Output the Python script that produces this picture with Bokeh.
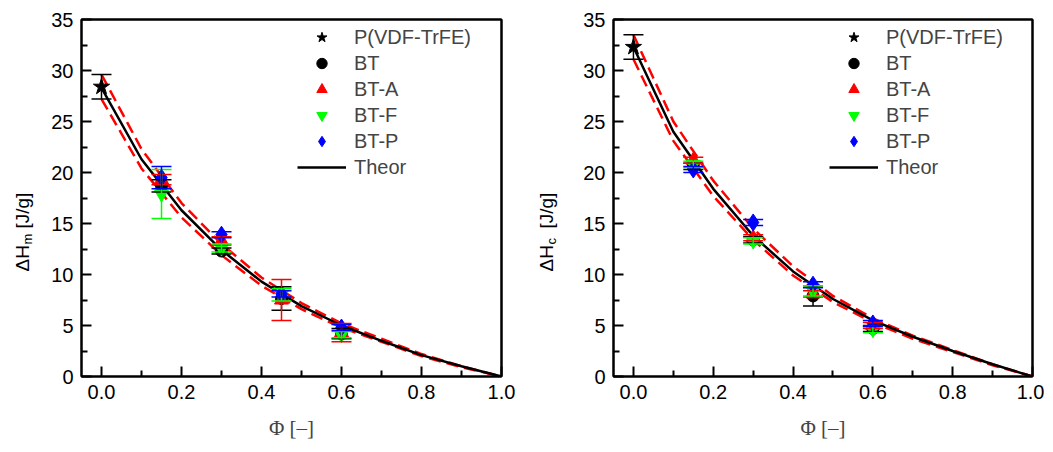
import math
from bokeh.plotting import figure
from bokeh.models import (ColumnDataSource, Whisker, TeeHead, Legend, LegendItem,
                          Range1d, FixedTicker, NumeralTickFormatter, LinearAxis)
from bokeh.core.properties import value
from bokeh.layouts import row
from bokeh.embed import file_html
from bokeh.resources import INLINE

# ---------------- data ----------------
phi_pure = [0.0]
phi = [0.15, 0.30, 0.45, 0.60]
theor_phi = [0.0, 0.1, 0.2, 0.3, 0.4, 0.5, 0.6, 0.7, 0.8, 0.9, 1.0]

# Left panel: melting enthalpy dHm [J/g]
hm_pvdf = [28.4]
hm_pvdf_err = [1.2]
hm_bt = [18.7, 12.3, 7.65, 4.2]
hm_bt_err = [0.6, 0.3, 1.15, 0.5]
hm_bta = [19.3, 13.3, 7.5, 4.3]
hm_bta_err = [0.5, 0.4, 2.0, 0.9]
hm_btf = [17.9, 12.6, 8.0, 4.1]
hm_btf_err = [2.4, 0.4, 0.6, 0.3]
hm_btp = [19.5, 13.9, 8.1, 4.8]
hm_btp_err = [1.1, 0.3, 0.3, 0.3]
hm_theor = [28.3, 21.3, 16.3, 12.4, 9.3, 6.9, 5.0, 3.5, 2.1, 1.0, 0.0]
hm_upper = [29.6, 22.3, 17.0, 13.0, 9.7, 7.2, 5.2, 3.7, 2.2, 1.0, 0.0]
hm_lower = [27.2, 20.4, 15.6, 11.9, 8.9, 6.6, 4.8, 3.4, 2.0, 0.9, 0.0]

# Right panel: crystallization enthalpy dHc [J/g]
hc_pvdf = [32.3]
hc_pvdf_err = [1.2]
hc_bt = [20.6, 13.4, 7.9, 4.7]
hc_bt_err = [0.3, 0.3, 1.0, 0.3]
hc_bta = [21.2, 13.6, 8.1, 5.0]
hc_bta_err = [0.3, 0.3, 0.3, 0.3]
hc_btf = [20.8, 13.3, 8.4, 4.6]
hc_btf_err = [0.3, 0.3, 0.5, 0.3]
hc_btp = [20.3, 15.1, 9.0, 5.2]
hc_btp_err = [0.3, 0.3, 0.3, 0.3]
hc_theor = [32.3, 24.0, 18.4, 13.8, 10.3, 7.6, 5.5, 3.9, 2.5, 1.2, 0.0]
hc_upper = [33.5, 25.0, 19.2, 14.5, 10.8, 7.9, 5.7, 4.0, 2.6, 1.2, 0.0]
hc_lower = [31.1, 23.1, 17.7, 13.4, 9.9, 7.3, 5.3, 3.7, 2.4, 1.1, 0.0]

x_ticks = [0.0, 0.2, 0.4, 0.6, 0.8, 1.0]
x_minor = [0.1, 0.3, 0.5, 0.7, 0.9]
y_ticks = [0, 5, 10, 15, 20, 25, 30, 35]
y_minor = [2.5, 7.5, 12.5, 17.5, 22.5, 27.5, 32.5]
series_names = ["P(VDF-TrFE)", "BT", "BT-A", "BT-F", "BT-P", "Theor"]

SANS = "Liberation Sans"
SERIF = "Liberation Serif"
H = 444


def ylabel_fig(width, cx, sub):
    """Narrow figure (pixel ranges, no axes) holding the rotated y title."""
    f = figure(width=width, height=H, output_backend="svg", toolbar_location=None,
               x_range=Range1d(0, width), y_range=Range1d(0, H),
               x_axis_location=None, y_axis_location=None, title=None,
               frame_width=width, frame_height=H,
               min_border=0, min_border_left=0, min_border_right=0,
               min_border_top=0, min_border_bottom=0)
    f.grid.visible = False
    f.outline_line_color = None
    kw = dict(angle=math.pi / 2, text_align="left", text_baseline="middle",
              text_color="black", text_font=value(SANS))
    f.text(x=[cx], y=[192], text=["ΔH"], text_font_size="19px", **kw)
    f.text(x=[cx + 5], y=[219], text=[sub], text_font_size="13px", **kw)
    f.text(x=[cx], y=[235], text=["[J/g]"], text_font_size="19px", **kw)
    return f


def make_panel(width, border_left, border_right, pvdf, pvdf_err, series,
               theor, upper, lower):
    p = figure(width=width, height=H, output_backend="svg", toolbar_location=None,
               x_range=Range1d(-0.05, 1.0), y_range=Range1d(0, 35),
               min_border_left=border_left, min_border_right=border_right,
               min_border_top=19, min_border_bottom=68)
    p.grid.visible = False
    p.outline_line_color = "black"
    p.outline_line_width = 2

    for ax in (p.xaxis[0], p.yaxis[0]):
        ax.axis_line_width = 2
        ax.major_tick_line_width = 2
        ax.minor_tick_line_width = 2
        ax.major_tick_in = 10
        ax.major_tick_out = 0
        ax.minor_tick_in = 6
        ax.minor_tick_out = 0
        ax.major_label_text_font = SANS
        ax.major_label_text_font_size = "20px"
        ax.major_label_text_color = "black"
        ax.major_label_standoff = 8
    p.xaxis.ticker = FixedTicker(ticks=x_ticks, minor_ticks=x_minor)
    p.yaxis.ticker = FixedTicker(ticks=y_ticks, minor_ticks=y_minor)
    p.xaxis.formatter = NumeralTickFormatter(format="0.0")
    p.xaxis.axis_label = "Φ [–]"
    p.xaxis.axis_label_text_font = SERIF
    p.xaxis.axis_label_text_font_style = "normal"
    p.xaxis.axis_label_text_font_size = "21px"
    p.xaxis.axis_label_standoff = 14

    # closing box: plain axes on top and right without ticks or labels
    for side in ("above", "right"):
        ax = LinearAxis(ticker=FixedTicker(ticks=[]), axis_line_width=2,
                        axis_line_color="black", major_tick_in=0, major_tick_out=0,
                        minor_tick_in=0, minor_tick_out=0, major_label_standoff=0,
                        major_label_text_font_size="0px")
        p.add_layout(ax, side)

    # theory band (red dashed) and theory line
    p.line(theor_phi, upper, line_color="red", line_width=2.5, line_dash="12 6")
    p.line(theor_phi, lower, line_color="red", line_width=2.5, line_dash="12 6")
    r_theor = p.line(theor_phi, theor, line_color="black", line_width=2.5)

    renderers = []
    src = ColumnDataSource(dict(x=phi_pure, y=pvdf,
                                lo=[a - b for a, b in zip(pvdf, pvdf_err)],
                                hi=[a + b for a, b in zip(pvdf, pvdf_err)]))
    p.add_layout(Whisker(source=src, base="x", upper="hi", lower="lo",
                         line_color="black", line_width=1.5, level="glyph",
                         upper_head=TeeHead(size=20, line_color="black", line_width=1.5),
                         lower_head=TeeHead(size=20, line_color="black", line_width=1.5)))
    renderers.append(p.scatter("x", "y", source=src, marker="star", size=17,
                               color="black"))

    for vals, errs, marker, color, size in series:
        src = ColumnDataSource(dict(x=phi, y=vals,
                                    lo=[a - b for a, b in zip(vals, errs)],
                                    hi=[a + b for a, b in zip(vals, errs)]))
        p.add_layout(Whisker(source=src, base="x", upper="hi", lower="lo",
                             line_color=color, line_width=1.5, level="glyph",
                             upper_head=TeeHead(size=20, line_color=color, line_width=1.5),
                             lower_head=TeeHead(size=20, line_color=color, line_width=1.5)))
        renderers.append(p.scatter("x", "y", source=src, marker=marker, size=size,
                                   color=color))
    renderers.append(r_theor)

    legend = Legend(items=[LegendItem(label=n, renderers=[r])
                           for n, r in zip(series_names, renderers)],
                    location=(216, 196), padding=0, margin=0, spacing=0,
                    glyph_width=49, glyph_height=26, label_height=26,
                    label_standoff=8, border_line_alpha=0,
                    background_fill_alpha=0,
                    label_text_font=SANS, label_text_font_size="20px")
    p.add_layout(legend)
    return p


left_series = [
    (hm_bt, hm_bt_err, "circle", "black", 12),
    (hm_bta, hm_bta_err, "triangle", "red", 14),
    (hm_btf, hm_btf_err, "inverted_triangle", "#00ff00", 14),
    (hm_btp, hm_btp_err, "diamond", "blue", 17),
]
right_series = [
    (hc_bt, hc_bt_err, "circle", "black", 12),
    (hc_bta, hc_bta_err, "triangle", "red", 14),
    (hc_btf, hc_btf_err, "inverted_triangle", "#00ff00", 14),
    (hc_btp, hc_btp_err, "diamond", "blue", 17),
]

lab1 = ylabel_fig(40, 22, "m")
p1 = make_panel(489, 41, 28, hm_pvdf, hm_pvdf_err, left_series,
                hm_theor, hm_upper, hm_lower)
lab2 = ylabel_fig(40, 16.5, "c")
p2 = make_panel(475, 44, 12, hc_pvdf, hc_pvdf_err, right_series,
                hc_theor, hc_upper, hc_lower)

layout = row(lab1, p1, lab2, p2)
open("out.html", "w").write(file_html(layout, INLINE))
